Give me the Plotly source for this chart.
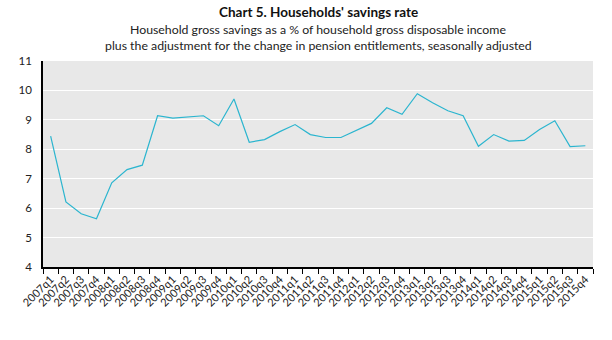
import plotly.graph_objects as go

quarters = [f"{y}q{q}" for y in range(2007, 2016) for q in range(1, 5)]
savings_rate = [8.45, 6.21, 5.81, 5.64, 6.86, 7.31, 7.46, 9.14,
                9.06, 9.10, 9.14, 8.80, 9.71, 8.24, 8.33, 8.60,
                8.84, 8.50, 8.40, 8.40, 8.64, 8.88, 9.41, 9.19,
                9.89, 9.58, 9.31, 9.14, 8.10, 8.50, 8.28, 8.30,
                8.67, 8.97, 8.09, 8.12]
y_ticks = [4, 5, 6, 7, 8, 9, 10, 11]

title = "Chart 5. Households' savings rate"
subtitle = ["Household gross savings as a % of household gross disposable income",
            "plus the adjustment for the change in pension entitlements, seasonally adjusted"]

W, H = 612, 340
M = dict(l=43, r=19, t=61, b=73)
plot_h = H - M["t"] - M["b"]


def paper_y(px_from_top):
    # convert a pixel row (from the top of the page) into paper coordinates
    return (H - M["b"] - px_from_top) / plot_h


fig = go.Figure(go.Scatter(
    x=quarters, y=savings_rate, mode="lines",
    line=dict(color="#2bb5cf", width=1.2),
    hoverinfo="x+y",
))

fig.update_layout(
    width=W, height=H,
    margin=M,
    paper_bgcolor="white", plot_bgcolor="#e8e8e8",
    font=dict(family="Lato, Carlito, sans-serif", size=11, color="#222"),
    showlegend=False,
    annotations=[
        dict(text=f"<b>{title}</b>", x=0.5, y=paper_y(12), xref="paper", yref="paper",
             yanchor="middle", showarrow=False, font=dict(size=13.5, color="#111")),
        dict(text=subtitle[0], x=0.5, y=paper_y(29), xref="paper", yref="paper",
             yanchor="middle", showarrow=False, font=dict(size=12.3, color="#222")),
        dict(text=subtitle[1], x=0.5, y=paper_y(45), xref="paper", yref="paper",
             yanchor="middle", showarrow=False, font=dict(size=12.3, color="#222")),
    ],
)

fig.update_xaxes(
    type="category", tickangle=-45, tickson="boundaries",
    ticks="outside", ticklen=5, tickcolor="black",
    showline=True, linecolor="black", linewidth=1.5,
    showgrid=False, tickfont=dict(size=11, color="#222"),
    range=[-0.5, len(quarters) - 0.5],
)
fig.update_yaxes(
    range=[4, 11], tickvals=y_ticks,
    ticks="outside", ticklen=7, tickcolor="rgba(0,0,0,0)",
    showline=True, linecolor="black", linewidth=1.5,
    showgrid=True, gridcolor="white", gridwidth=1.2,
    tickfont=dict(size=11.5, color="#222"), zeroline=False,
)

fig.write_html("out.html")
